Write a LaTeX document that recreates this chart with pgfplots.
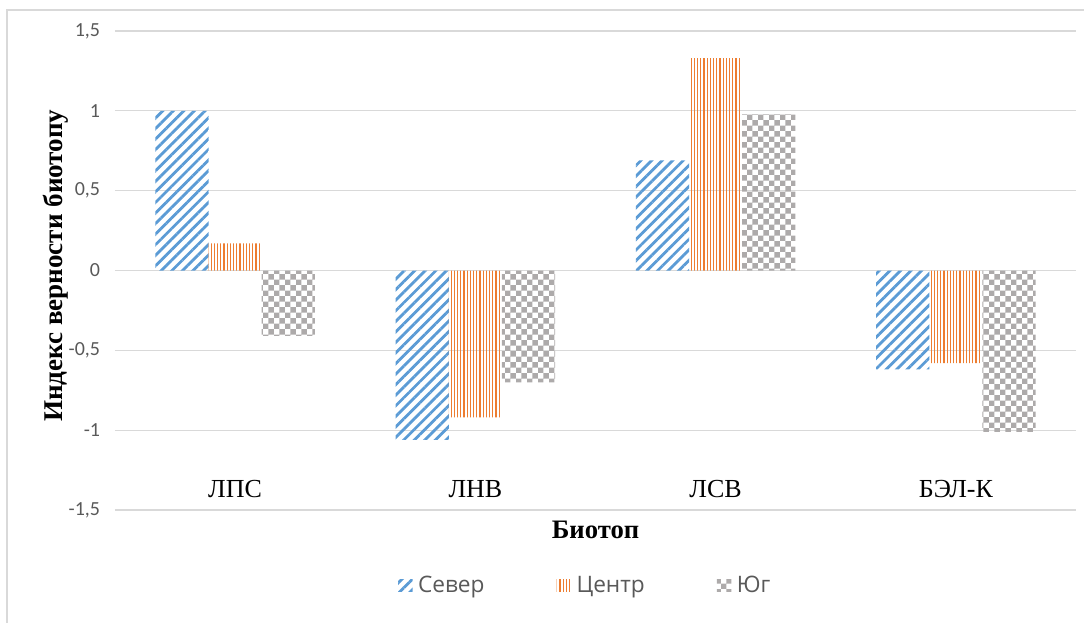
\documentclass[border=0pt]{standalone}
\usepackage{pgfplots}
\usepackage{pgfplotstable}
\pgfplotsset{compat=1.18}
\usepackage{fontspec}
\setmainfont{Liberation Serif}
\newfontfamily\tickfont{Carlito}
\newfontfamily\legfont{Open Sans}
\usetikzlibrary{patterns,patterns.meta}

\definecolor{sevc}{HTML}{5B9BD5}
\definecolor{centc}{HTML}{ED7D31}
\definecolor{yugc}{HTML}{ADAAAA}
\definecolor{gridc}{HTML}{D9D9D9}
\definecolor{txtc}{HTML}{595959}

% large checkerboard tile for the "Юг" series
\pgfdeclarepatternformonly{bigchecker}{\pgfpointorigin}{\pgfqpoint{8.6pt}{8.6pt}}{\pgfqpoint{8.6pt}{8.6pt}}{%
  \pgfpathrectangle{\pgfpointorigin}{\pgfqpoint{4.3pt}{4.3pt}}%
  \pgfpathrectangle{\pgfqpoint{4.3pt}{4.3pt}}{\pgfqpoint{4.3pt}{4.3pt}}%
  \pgfusepath{fill}}

\pgfplotstableread{
x  sever  centr  yug
0   1.00   0.17  -0.41
1  -1.06  -0.92  -0.70
2   0.69   1.33   0.98
3  -0.62  -0.58  -1.01
}\datatable

\begin{document}
\begin{tikzpicture}
\path[use as bounding box] (-86.25pt,-84pt) rectangle (726.75pt,382.5pt);
\begin{axis}[
  scale only axis,
  width=720.75pt, height=359.25pt,
  xmin=-0.5, xmax=3.5, ymin=-1.5, ymax=1.5,
  ybar, bar width=0.221,
  axis line style={draw=none},
  major tick length=0pt,
  ymajorgrids, grid style={color=gridc, line width=0.9pt},
  ytick={-1.5,-1,-0.5,0,0.5,1,1.5},
  yticklabels={{-1,5},{-1},{-0,5},{0},{0,5},{1},{1,5}},
  yticklabel style={font=\tickfont\fontsize{15}{17}\selectfont, text=txtc, inner sep=0pt, xshift=-11pt},
  xtick={0,1,2,3},
  xticklabels={ЛПС,ЛНВ,ЛСВ,БЭЛ-К},
  x tick label style={font=\fontsize{19.5}{22}\selectfont, anchor=center, yshift=16pt},
  xlabel={Биотоп},
  xlabel style={font=\bfseries\fontsize{20}{23}\selectfont, at={(axis description cs:0.5,-0.042)}, anchor=center},
  ylabel={Индекс верности биотопу},
  ylabel style={font=\bfseries\fontsize{20.3}{23}\selectfont, at={(axis description cs:-0.0614,0.51)}, anchor=center},
  legend columns=3,
  legend style={draw=none, at={(axis description cs:0.491,-0.157)}, anchor=center,
    font=\legfont\fontsize{17}{20}\selectfont, text=txtc,
    nodes={inner xsep=4pt},
    /tikz/every even column/.append style={column sep=50pt}},
  patleg/.style={legend image code/.code={\fill[##1] (0pt,-4.5pt) rectangle (11pt,4.5pt);}},
]
\addplot[draw=none, bar shift=-0.221, pattern={Lines[angle=45, distance=5.6pt, line width=2.1pt]}, pattern color=sevc, patleg]
  table[x=x, y=sever] {\datatable};
\addlegendentry{Север}
\addplot[draw=none, bar shift=0, pattern={Lines[angle=90, distance=2.4pt, line width=0.9pt]}, pattern color=centc, patleg]
  table[x=x, y=centr] {\datatable};
\addlegendentry{Центр}
\addplot[draw=none, bar shift=0.221, pattern=bigchecker, pattern color=yugc, patleg]
  table[x=x, y=yug] {\datatable};
\addlegendentry{Юг}
\end{axis}
% chart frame
\draw[gridc, line width=0.9pt] (-81pt,-100pt) -- (-81pt,375pt) -- (740pt,375pt);
\end{tikzpicture}
\end{document}
